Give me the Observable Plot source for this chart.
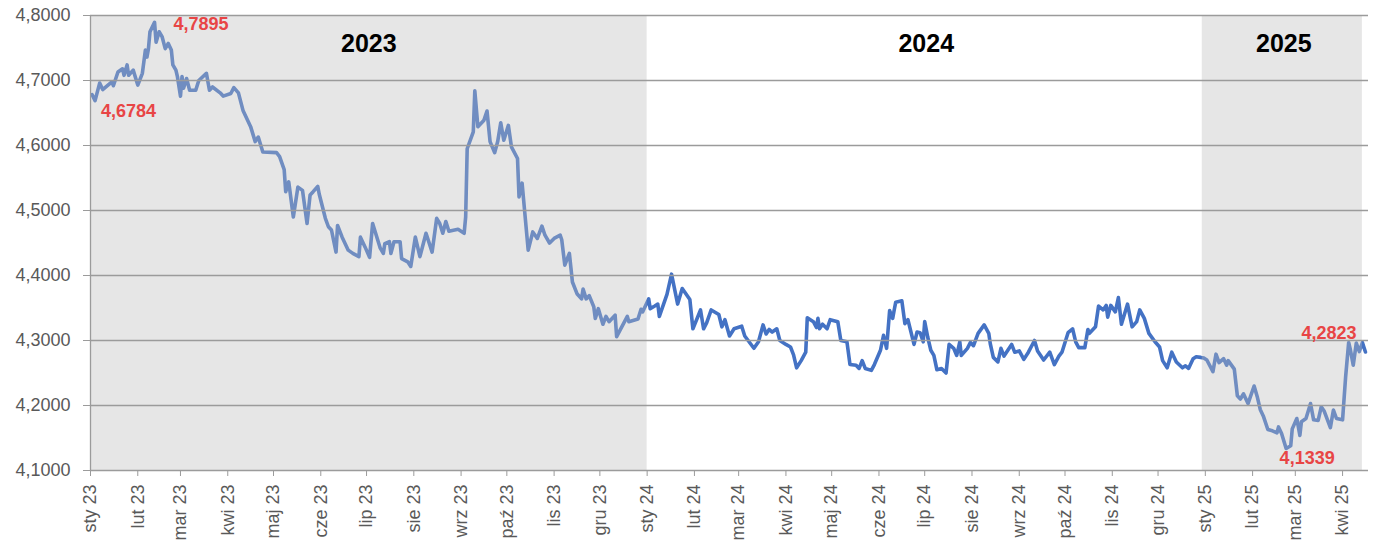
<!DOCTYPE html>
<html><head><meta charset="utf-8">
<script src="https://cdn.jsdelivr.net/npm/d3@7"></script>
<script src="https://cdn.jsdelivr.net/npm/@observablehq/plot@0.6"></script>
<style>body{margin:0;background:#fff;}#chart svg{display:block;}</style>
</head><body><div id="chart"></div>
<script>
// EUR/PLN rate
const dates = [
"2023-01-02","2023-01-04","2023-01-07","2023-01-09","2023-01-15","2023-01-16","2023-01-19","2023-01-22","2023-01-23","2023-01-25","2023-01-26","2023-01-29",
"2023-02-01","2023-02-04","2023-02-06","2023-02-07","2023-02-08","2023-02-09","2023-02-12","2023-02-13","2023-02-15","2023-02-17","2023-02-19","2023-02-21","2023-02-23","2023-02-24","2023-02-26","2023-02-27",
"2023-03-01","2023-03-02","2023-03-03","2023-03-05","2023-03-07","2023-03-11","2023-03-13","2023-03-18","2023-03-20","2023-03-22","2023-03-27","2023-03-29",
"2023-04-03","2023-04-05","2023-04-08","2023-04-11","2023-04-16","2023-04-19","2023-04-21","2023-04-24",
"2023-05-03","2023-05-05","2023-05-08","2023-05-09","2023-05-11","2023-05-14","2023-05-17","2023-05-20","2023-05-23","2023-05-25","2023-05-27","2023-05-30","2023-05-31",
"2023-06-04","2023-06-06","2023-06-08","2023-06-11","2023-06-12","2023-06-15","2023-06-19","2023-06-22","2023-06-26","2023-06-27","2023-06-30",
"2023-07-03","2023-07-05","2023-07-10","2023-07-12","2023-07-13","2023-07-16","2023-07-17","2023-07-19","2023-07-23","2023-07-24","2023-07-28","2023-07-30",
"2023-08-02","2023-08-05","2023-08-09","2023-08-13","2023-08-16","2023-08-18","2023-08-20","2023-08-22","2023-08-24","2023-08-30",
"2023-09-03","2023-09-04","2023-09-05","2023-09-09","2023-09-10","2023-09-12","2023-09-16","2023-09-18","2023-09-20","2023-09-23","2023-09-25","2023-09-27","2023-09-29",
"2023-10-02","2023-10-04","2023-10-08","2023-10-09","2023-10-11","2023-10-15","2023-10-18","2023-10-21","2023-10-24","2023-10-26","2023-10-29",
"2023-11-01","2023-11-05","2023-11-06","2023-11-08","2023-11-11","2023-11-13","2023-11-16","2023-11-19","2023-11-20","2023-11-22","2023-11-24","2023-11-27","2023-11-28","2023-11-30",
"2023-12-03","2023-12-05","2023-12-07","2023-12-11","2023-12-12","2023-12-19","2023-12-20","2023-12-26","2023-12-28","2023-12-29",
"2024-01-02","2024-01-03","2024-01-06","2024-01-08","2024-01-09","2024-01-14","2024-01-17","2024-01-21","2024-01-24","2024-01-29","2024-01-31",
"2024-02-05","2024-02-07","2024-02-09","2024-02-12","2024-02-17","2024-02-19","2024-02-21","2024-02-24","2024-02-27",
"2024-03-03","2024-03-05","2024-03-11","2024-03-14","2024-03-17","2024-03-19","2024-03-21","2024-03-23","2024-03-26","2024-03-28",
"2024-04-01","2024-04-04","2024-04-06","2024-04-08","2024-04-11","2024-04-14","2024-04-15","2024-04-19","2024-04-21","2024-04-22","2024-04-23","2024-04-25","2024-04-28","2024-04-30",
"2024-05-05","2024-05-07","2024-05-11","2024-05-13","2024-05-17","2024-05-19","2024-05-21","2024-05-23","2024-05-27","2024-05-29",
"2024-06-02","2024-06-04","2024-06-06","2024-06-08","2024-06-10","2024-06-11","2024-06-12","2024-06-16","2024-06-18","2024-06-20","2024-06-24","2024-06-26","2024-06-28","2024-06-30",
"2024-07-01","2024-07-03","2024-07-05","2024-07-07","2024-07-09","2024-07-12","2024-07-15","2024-07-17","2024-07-20","2024-07-22","2024-07-24","2024-07-25","2024-07-29","2024-07-31",
"2024-08-02","2024-08-05","2024-08-09","2024-08-12","2024-08-13","2024-08-15","2024-08-18","2024-08-20","2024-08-22","2024-08-27","2024-08-29",
"2024-09-01","2024-09-04","2024-09-07","2024-09-11","2024-09-13","2024-09-17","2024-09-21","2024-09-24","2024-09-27","2024-09-29",
"2024-10-03","2024-10-06","2024-10-08","2024-10-10","2024-10-14","2024-10-16","2024-10-17","2024-10-21","2024-10-23","2024-10-26","2024-10-28","2024-10-29","2024-10-31",
"2024-11-03","2024-11-05","2024-11-07","2024-11-11","2024-11-14","2024-11-17","2024-11-19","2024-11-22","2024-11-25","2024-11-29",
"2024-12-02","2024-12-04","2024-12-07","2024-12-10","2024-12-13","2024-12-17","2024-12-19","2024-12-21","2024-12-24","2024-12-26","2024-12-29","2024-12-31",
"2025-01-02","2025-01-06","2025-01-08","2025-01-10","2025-01-13","2025-01-15","2025-01-16","2025-01-20","2025-01-22","2025-01-24","2025-01-26","2025-01-29",
"2025-02-02","2025-02-04","2025-02-06","2025-02-08","2025-02-11","2025-02-14","2025-02-17","2025-02-18","2025-02-20","2025-02-23","2025-02-26","2025-02-27",
"2025-03-02","2025-03-04","2025-03-05","2025-03-08","2025-03-11","2025-03-13","2025-03-16","2025-03-18","2025-03-20","2025-03-24","2025-03-26","2025-03-28",
"2025-04-01","2025-04-03","2025-04-05","2025-04-06","2025-04-08","2025-04-10","2025-04-12","2025-04-14","2025-04-16"
];
const rates = [
4.6784,4.669,4.696,4.686,4.698,4.692,4.713,4.718,4.708,4.724,4.708,4.716,
4.693,4.711,4.747,4.736,4.749,4.775,4.7895,4.759,4.775,4.767,4.749,4.757,4.747,4.724,4.716,4.706,
4.676,4.706,4.688,4.703,4.685,4.685,4.700,4.711,4.685,4.690,4.681,4.676,
4.680,4.689,4.681,4.654,4.629,4.606,4.613,4.590,
4.589,4.583,4.563,4.529,4.544,4.490,4.536,4.531,4.480,4.524,4.529,4.537,4.525,
4.488,4.475,4.470,4.436,4.477,4.459,4.439,4.434,4.429,4.459,4.444,
4.428,4.480,4.442,4.434,4.449,4.452,4.434,4.452,4.452,4.426,4.421,4.414,
4.459,4.429,4.465,4.436,4.488,4.480,4.465,4.483,4.468,4.471,
4.465,4.490,4.595,4.621,4.684,4.629,4.639,4.653,4.606,4.589,4.606,4.635,4.608,
4.631,4.598,4.580,4.521,4.542,4.439,4.467,4.457,4.476,4.462,4.450,
4.457,4.462,4.455,4.416,4.434,4.390,4.372,4.364,4.379,4.364,4.369,4.352,4.334,4.349,
4.325,4.337,4.329,4.339,4.306,4.337,4.329,4.333,4.348,4.344,
4.364,4.349,4.353,4.356,4.337,4.371,4.402,4.356,4.380,4.363,4.318,
4.347,4.318,4.327,4.347,4.340,4.321,4.332,4.307,4.318,
4.322,4.307,4.288,4.298,4.324,4.310,4.317,4.313,4.318,4.300,
4.294,4.290,4.278,4.258,4.269,4.282,4.335,4.329,4.320,4.334,4.318,4.325,4.318,4.332,
4.329,4.300,4.298,4.263,4.262,4.257,4.269,4.257,4.254,4.263,
4.285,4.308,4.288,4.346,4.334,4.347,4.359,4.361,4.326,4.332,4.294,4.313,4.312,4.298,
4.329,4.305,4.285,4.277,4.255,4.257,4.250,4.294,4.288,4.277,4.298,4.277,4.288,4.297,
4.292,4.311,4.324,4.311,4.295,4.274,4.267,4.288,4.276,4.294,4.282,
4.284,4.271,4.282,4.300,4.284,4.270,4.282,4.263,4.276,4.282,
4.312,4.318,4.298,4.289,4.289,4.317,4.311,4.321,4.353,4.347,4.354,4.336,4.354,
4.344,4.366,4.325,4.356,4.321,4.329,4.347,4.334,4.311,4.298,
4.290,4.269,4.258,4.282,4.267,4.258,4.261,4.257,4.272,4.275,4.274,4.273,
4.270,4.252,4.279,4.266,4.272,4.262,4.269,4.256,4.215,4.210,4.218,4.203,
4.230,4.214,4.194,4.184,4.163,4.161,4.158,4.167,4.157,4.1339,4.138,4.164,
4.180,4.154,4.175,4.180,4.203,4.178,4.177,4.198,4.191,4.166,4.193,4.180,
4.178,4.244,4.297,4.287,4.262,4.296,4.283,4.297,4.2823
];
const yTicks = [4.1, 4.2, 4.3, 4.4, 4.5, 4.6, 4.7, 4.8];
const monthLabels = ["sty","lut","mar","kwi","maj","cze","lip","sie","wrz","paź","lis","gru"];
const bandStarts = ["2022-12-30", "2024-12-30"];
const bandEnds = ["2024-01-01", "2025-04-14"];
const yearLabels = ["2023", "2024", "2025"];
const yearStarts = ["2023-01-01", "2024-01-01", "2025-01-01"];
const yearEnds = ["2024-01-01", "2025-01-01", "2025-04-14"];
const yearLabelValue = 4.756;
const annotTexts = ["4,6784", "4,7895", "4,1339", "4,2823"];
const annotDates = ["2023-01-02", "2023-02-12", "2025-02-23", "2025-04-16"];
const annotValues = [4.6784, 4.7895, 4.1339, 4.2823];

const data = dates.map((d, i) => ({date: new Date(d), rate: rates[i]}));
const bands = bandStarts.map((s, i) => ({start: new Date(s), end: new Date(bandEnds[i])}));
const years = yearLabels.map((t, i) => ({label: t, mid: new Date((+new Date(yearStarts[i]) + +new Date(yearEnds[i])) / 2)}));
const ann = annotTexts.map((t, i) => ({text: t, date: new Date(annotDates[i]), rate: annotValues[i]}));
const annPlace = [
  {dx: 9, dy: 17, textAnchor: "start"},
  {dx: 19, dy: 2, textAnchor: "start"},
  {dx: 21, dy: 10, textAnchor: "middle"},
  {dx: -9, dy: -19, textAnchor: "end"}
];
const xStart = new Date("2023-01-01"), xEnd = new Date("2025-04-18");
const monthTicks = d3.utcMonth.range(xStart, new Date("2025-04-19"));
const fmtMonth = d => monthLabels[d.getUTCMonth()] + " " + String(d.getUTCFullYear()).slice(2);
const fmtY = v => v.toFixed(4).replace(".", ",");

const gridColor = "#9b9b9b";
const labelColor = "#595959";

const chart = Plot.plot({
  width: 1375,
  height: 546,
  marginTop: 15,
  marginBottom: 76,
  marginLeft: 90,
  marginRight: 7,
  style: {fontFamily: "'Liberation Sans', Arial, sans-serif", fontSize: "18px", background: "#fff"},
  x: {type: "utc", domain: [xStart, xEnd], clamp: true},
  y: {domain: [4.1, 4.8]},
  marks: [
    Plot.line(data, {x: "date", y: "rate", stroke: "#4472c4", strokeWidth: 3.6, strokeLinejoin: "round", strokeLinecap: "round"}),
    Plot.rect(bands, {x1: "start", x2: "end", fill: "#bbbbbb", fillOpacity: 0.37}),
    Plot.ruleY(yTicks, {stroke: gridColor, strokeWidth: 1.3}),
    Plot.ruleX([xStart], {stroke: gridColor, strokeWidth: 1.3}),
    Plot.axisY({ticks: yTicks, tickFormat: fmtY, tickSize: 7, tickPadding: 13, stroke: gridColor, fill: labelColor, fontSize: 18, label: null}),
    Plot.axisX({ticks: monthTicks, tickFormat: fmtMonth, tickRotate: -90, tickSize: 6, tickPadding: 8, stroke: gridColor, fill: labelColor, fontSize: 18, label: null}),
    Plot.text(years, {x: "mid", y: () => yearLabelValue, text: "label", fontSize: 25, fontWeight: "bold", fill: "#000"}),
    ...ann.map((a, i) => Plot.text([a], {x: "date", y: "rate", text: "text", fontSize: 18, fontWeight: "bold", fill: "#e84545", ...annPlace[i]}))
  ]
});
document.getElementById("chart").append(chart);
</script>
</body></html>
